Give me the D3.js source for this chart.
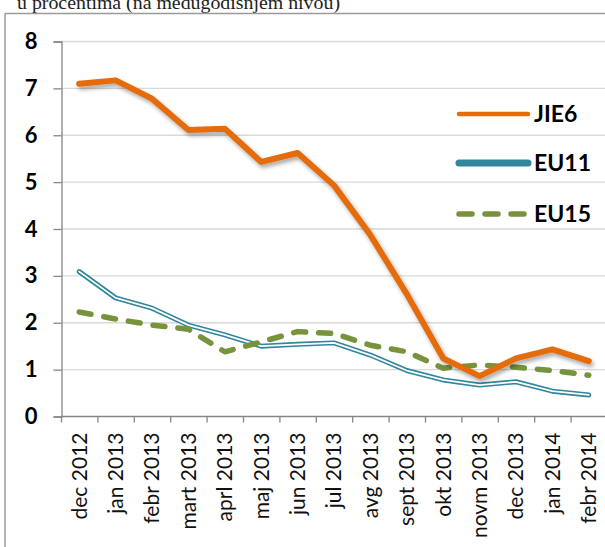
<!DOCTYPE html>
<html>
<head>
<meta charset="utf-8">
<script src="https://cdn.jsdelivr.net/npm/d3@7.9.0/dist/d3.min.js"></script>
<style>
  body { margin: 0; background: #fff; }
  svg { display: block; }
</style>
</head>
<body>
<svg id="chart" width="605" height="547"></svg>
<script>
// month labels
const months = ["dec 2012", "jan 2013", "febr 2013", "mart 2013", "aprl 2013", "maj 2013", "jun 2013",
  "jul 2013", "avg 2013", "sept 2013", "okt 2013", "novm 2013", "dec 2013", "jan 2014", "febr 2014"];

// series values
const jie6 = [7.09, 7.16, 6.77, 6.10, 6.13, 5.42, 5.61, 4.92, 3.86, 2.60, 1.23, 0.85, 1.23, 1.42, 1.17];
const eu11 = [3.08, 2.52, 2.30, 1.94, 1.73, 1.49, 1.53, 1.56, 1.30, 0.97, 0.77, 0.66, 0.73, 0.53, 0.45];
const eu15 = [2.22, 2.07, 1.94, 1.85, 1.37, 1.58, 1.80, 1.76, 1.51, 1.37, 1.02, 1.09, 1.04, 0.97, 0.87];

const yTicks = [0, 1, 2, 3, 4, 5, 6, 7, 8];

const svg = d3.select("#chart");

// frame + cut off subtitle
svg.append("text")
    .attr("x", 17).attr("y", 9)
    .attr("font-family", "'Liberation Serif', serif")
    .attr("font-size", 19)
    .attr("textLength", 323)
    .attr("lengthAdjust", "spacingAndGlyphs")
    .attr("fill", "#222")
    .text("u procentima (na međugodišnjem nivou)");
svg.append("line").attr("x1", 5).attr("x2", 605).attr("y1", 13.5).attr("y2", 13.5)
    .attr("stroke", "#9a9a9a").attr("stroke-width", 1.5);
svg.append("line").attr("x1", 5).attr("x2", 5).attr("y1", 13.5).attr("y2", 547)
    .attr("stroke", "#9a9a9a").attr("stroke-width", 1.5);

const left = 61, bandW = 36.4;
const x = d3.scaleBand().domain(months).range([left, left + bandW * months.length]);
const y = d3.scaleLinear().domain([0, 8]).range([416, 41]);

// grid
svg.append("g").selectAll("line")
    .data(yTicks.filter(d => d > 0))
    .join("line")
    .attr("x1", left).attr("x2", 605)
    .attr("y1", d => y(d) + 0.5).attr("y2", d => y(d) + 0.5)
    .attr("stroke", "#d9d9d9").attr("stroke-width", 1.3);

// y axis
const yAxis = svg.append("g").attr("transform", `translate(${left + 0.5},0.5)`)
    .call(d3.axisLeft(y).tickValues(yTicks).tickSize(8).tickPadding(16).tickFormat(d3.format("d")));
yAxis.select(".domain").attr("stroke", "#868686").attr("stroke-width", 1.3);
yAxis.selectAll(".tick line").attr("stroke", "#868686").attr("stroke-width", 1.3);
yAxis.selectAll("text")
    .attr("font-family", "Lato, sans-serif").attr("font-weight", "bold")
    .attr("font-size", 22).attr("fill", "#000");

// x axis
const xAxis = svg.append("g").attr("transform", `translate(0,${y(0) + 0.5})`)
    .call(d3.axisBottom(x).tickSize(0).tickSizeOuter(0));
xAxis.select(".domain").attr("stroke", "#868686").attr("stroke-width", 1.3)
    .attr("d", `M${left},0H605`);
// tick marks between categories
xAxis.selectAll("line.sep")
    .data(months)
    .join("line").attr("class", "sep")
    .attr("x1", d => x(d) + 0.5).attr("x2", d => x(d) + 0.5)
    .attr("y1", 0).attr("y2", 6)
    .attr("stroke", "#868686").attr("stroke-width", 1.3);
xAxis.selectAll(".tick text")
    .attr("font-family", "Lato, sans-serif")
    .attr("font-size", 21).attr("fill", "#111")
    .attr("transform", "rotate(-90)")
    .attr("text-anchor", "end")
    .attr("x", -16).attr("y", 0).attr("dy", "0.35em");

// shadow filter for the orange line
const defs = svg.append("defs");
const f = defs.append("filter").attr("id", "shadow").attr("x", "-10%").attr("y", "-10%")
    .attr("width", "130%").attr("height", "130%");
f.append("feGaussianBlur").attr("in", "SourceAlpha").attr("stdDeviation", 2).attr("result", "b");
f.append("feOffset").attr("in", "b").attr("dx", 2).attr("dy", 3).attr("result", "o");
f.append("feComponentTransfer").attr("in", "o").attr("result", "s")
    .append("feFuncA").attr("type", "linear").attr("slope", 0.35);
const m = f.append("feMerge");
m.append("feMergeNode").attr("in", "s");
m.append("feMergeNode").attr("in", "SourceGraphic");

const line = d3.line()
    .x((d, i) => x(months[i]) + x.bandwidth() / 2)
    .y(d => y(d));

// EU11 compound line (teal outline, white core)
svg.append("path").attr("d", line(eu11)).attr("fill", "none")
    .attr("stroke", "#31859c").attr("stroke-width", 5).attr("stroke-linejoin", "round").attr("stroke-linecap", "round");
svg.append("path").attr("d", line(eu11)).attr("fill", "none")
    .attr("stroke", "#fff").attr("stroke-width", 1.8).attr("stroke-linejoin", "round").attr("stroke-linecap", "round");

// EU15 dashed
svg.append("path").attr("d", line(eu15)).attr("fill", "none")
    .attr("stroke", "#77933c").attr("stroke-width", 5.5)
    .attr("stroke-dasharray", "12,13").attr("stroke-linecap", "round").attr("stroke-linejoin", "round");

// JIE6
svg.append("path").attr("d", line(jie6)).attr("fill", "none")
    .attr("stroke", "#e46c0a").attr("stroke-width", 6)
    .attr("stroke-linejoin", "round").attr("stroke-linecap", "round")
    .attr("filter", "url(#shadow)");

// legend
const legendItems = [
  { name: "JIE6", color: "#e46c0a", w: 4.5, dash: null, yy: 114 },
  { name: "EU11", color: "#31859c", w: 7, dash: null, yy: 163 },
  { name: "EU15", color: "#77933c", w: 5.5, dash: "13,13", yy: 214 }
];
const lg = svg.append("g");
legendItems.forEach(d => {
  lg.append("line").attr("x1", 459).attr("x2", 528).attr("y1", d.yy).attr("y2", d.yy)
    .attr("stroke", d.color).attr("stroke-width", d.w).attr("stroke-linecap", "round")
    .attr("stroke-dasharray", d.dash);
  lg.append("text").attr("x", 534).attr("y", d.yy).attr("dy", "0.36em")
    .attr("font-family", "Lato, sans-serif").attr("font-weight", "bold")
    .attr("font-size", 23).attr("fill", "#000")
    .text(d.name);
});
</script>
</body>
</html>
